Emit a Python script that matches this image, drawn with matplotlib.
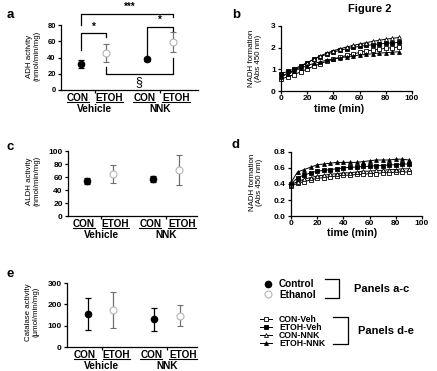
import matplotlib
matplotlib.use('Agg')
import matplotlib.pyplot as plt
from matplotlib import rcParams
from matplotlib.lines import Line2D

# Global settings
rcParams['font.family'] = 'Liberation Sans'
rcParams['font.weight'] = 'bold'
rcParams['axes.linewidth'] = 0.9
rcParams['xtick.major.width'] = 0.9
rcParams['ytick.major.width'] = 0.9
rcParams['xtick.major.size'] = 2.2
rcParams['ytick.major.size'] = 2.2
rcParams['xtick.direction'] = 'out'
rcParams['ytick.direction'] = 'out'
rcParams['xtick.major.pad'] = 1.0
rcParams['ytick.major.pad'] = 1.5

# ---- data ----
conditions = ['CON', 'ETOH', 'CON', 'ETOH']
groups = ['Vehicle', 'NNK']

adh_mean = [32, 46, 38, 59.5]
adh_sd = [5, 11, 2, 12.5]
aldh_mean = [54, 65, 57.5, 71]
aldh_sd = [5, 14, 4.5, 23]
cat_mean = [155, 173, 130, 147]
cat_sd = [76, 86, 53, 48]

series_names = ['CON-Veh', 'ETOH-Veh', 'CON-NNK', 'ETOH-NNK']
time_min = [0, 5, 10, 15, 20, 25, 30, 35, 40, 45, 50, 55, 60, 65, 70, 75, 80, 85, 90]

adh_kinetics = {
    'CON-Veh':  [0.55, 0.65, 0.76, 0.88, 1.02, 1.14, 1.26, 1.37, 1.47, 1.56, 1.64, 1.71, 1.78, 1.84, 1.89, 1.93, 1.97, 2.00, 2.03],
    'ETOH-Veh': [0.80, 0.90, 1.02, 1.16, 1.31, 1.46, 1.59, 1.70, 1.80, 1.88, 1.95, 2.01, 2.06, 2.10, 2.14, 2.17, 2.20, 2.22, 2.24],
    'CON-NNK':  [0.65, 0.80, 0.95, 1.12, 1.30, 1.47, 1.62, 1.75, 1.86, 1.95, 2.03, 2.10, 2.17, 2.23, 2.29, 2.34, 2.39, 2.43, 2.47],
    'ETOH-NNK': [0.70, 0.80, 0.92, 1.05, 1.17, 1.27, 1.35, 1.42, 1.48, 1.53, 1.58, 1.62, 1.66, 1.69, 1.72, 1.75, 1.77, 1.79, 1.81],
}
aldh_kinetics = {
    'CON-Veh':  [0.37, 0.41, 0.43, 0.45, 0.47, 0.48, 0.49, 0.50, 0.51, 0.51, 0.52, 0.52, 0.53, 0.53, 0.54, 0.54, 0.55, 0.55, 0.55],
    'ETOH-Veh': [0.40, 0.48, 0.51, 0.54, 0.56, 0.57, 0.58, 0.59, 0.60, 0.61, 0.61, 0.62, 0.62, 0.63, 0.63, 0.64, 0.64, 0.65, 0.65],
    'CON-NNK':  [0.39, 0.43, 0.46, 0.48, 0.50, 0.51, 0.52, 0.53, 0.54, 0.54, 0.55, 0.56, 0.56, 0.57, 0.57, 0.58, 0.58, 0.59, 0.59],
    'ETOH-NNK': [0.42, 0.55, 0.58, 0.61, 0.64, 0.65, 0.66, 0.67, 0.67, 0.67, 0.67, 0.68, 0.69, 0.70, 0.70, 0.70, 0.71, 0.71, 0.70],
}

# ---- styles ----
W, H = 437, 371
xpos = [0, 1, 2.6, 3.6]
label_x = [-0.12, 1.12, 2.48, 3.72]
group_x = [0.55, 3.1]
etoh_edge = '#b4b4b4'
etoh_bar = '#707070'
series_style = {
    'CON-Veh':  dict(marker='s', mfc='white'),
    'ETOH-Veh': dict(marker='s', mfc='black'),
    'CON-NNK':  dict(marker='^', mfc='white'),
    'ETOH-NNK': dict(marker='^', mfc='black'),
}

fig = plt.figure(figsize=(W / 100, H / 100), dpi=100)

# overlay in pixel coordinates for free text / legend
ov = fig.add_axes([0, 0, 1, 1])
ov.set_xlim(0, W)
ov.set_ylim(H, 0)
ov.axis('off')


def px_axes(left, top, right, bottom):
    return fig.add_axes([left / W, 1 - bottom / H, (right - left) / W, (bottom - top) / H])


cond_texts = []


def dot_panel(ax, means, sds, ylim, yticks, xlim):
    for i in range(4):
        if i % 2 == 0:
            ax.errorbar(xpos[i], means[i], yerr=sds[i], fmt='o', color='black', ms=4.5,
                        capsize=2.5, elinewidth=0.9, capthick=0.9, clip_on=False, zorder=3)
        else:
            ax.errorbar(xpos[i], means[i], yerr=sds[i], fmt='o', mfc='white', mec=etoh_edge,
                        ecolor=etoh_bar, ms=5, mew=0.8, capsize=2.5, elinewidth=0.9,
                        capthick=0.9, clip_on=False, zorder=3)
    ax.set_xlim(*xlim)
    ax.set_ylim(*ylim)
    ax.set_yticks(yticks)
    ax.set_xticks(group_x)
    ax.set_xticklabels([])
    ax.tick_params(labelsize=6)
    for s in ['top', 'right']:
        ax.spines[s].set_visible(False)
    for i, c in enumerate(conditions):
        t = ax.annotate(c, xy=(label_x[i], 0), xycoords=('data', 'axes fraction'),
                        xytext=(0, -2.2), textcoords='offset points',
                        ha='center', va='top', fontsize=7.2, weight='bold')
        cond_texts.append(t)
    for j, g in enumerate(groups):
        ax.annotate(g, xy=(group_x[j], 0), xycoords=('data', 'axes fraction'),
                    xytext=(0, -10.2), textcoords='offset points',
                    ha='center', va='top', fontsize=7.3, weight='bold')


def kinetic_panel(ax, data, ylim, yticks):
    for name in series_names:
        st = series_style[name]
        ax.plot(time_min, data[name], color='black', lw=0.7, marker=st['marker'],
                mfc=st['mfc'], mec='black', ms=2.8, mew=0.6, clip_on=False)
    ax.set_xlim(0, 100)
    ax.set_ylim(*ylim)
    ax.set_xticks([0, 20, 40, 60, 80, 100])
    ax.set_yticks(yticks)
    ax.tick_params(labelsize=6)
    for s in ['top', 'right']:
        ax.spines[s].set_visible(False)


# panel a
ax_a = px_axes(61, 25, 198, 90)
dot_panel(ax_a, adh_mean, adh_sd, (0, 80), [0, 20, 40, 60, 80], (-0.78, 4.59))
ax_a.tick_params(labelsize=5.5)
brk = dict(color='black', lw=0.9, clip_on=False)
ax_a.plot([0, 0, 1, 1], [49, 70, 70, 65], **brk)
ax_a.text(0.5, 72, '*', ha='center', va='bottom', fontsize=7)
ax_a.plot([2.6, 2.6, 3.6, 3.6], [43, 78, 78, 73], **brk)
ax_a.text(3.1, 80, '*', ha='center', va='bottom', fontsize=7)
ax_a.plot([0, 0, 3.6, 3.6], [80, 94, 94, 90], **brk)
ax_a.text(1.9, 96, '***', ha='center', va='bottom', fontsize=7)
ax_a.plot([1, 1, 3.6, 3.6], [28, 20, 20, 39], **brk)
ax_a.text(2.27, 10, '\u00a7', ha='center', va='center', fontsize=9, weight='normal')

# panel c
ax_c = px_axes(68, 151, 197, 216)
dot_panel(ax_c, aldh_mean, aldh_sd, (0, 100), [0, 20, 40, 60, 80, 100], (-0.745, 4.31))

# panel e
ax_e = px_axes(67, 283, 197, 347)
dot_panel(ax_e, cat_mean, cat_sd, (0, 300), [0, 100, 200, 300], (-0.82, 4.27))

# panel b
ax_b = px_axes(281, 26, 412, 91)
kinetic_panel(ax_b, adh_kinetics, (0, 3), [0, 1, 2, 3])

# panel d
ax_d = px_axes(291, 152, 422, 216)
kinetic_panel(ax_d, aldh_kinetics, (0, 0.8), [0.0, 0.2, 0.4, 0.6, 0.8])
ax_d.set_yticklabels(['0.0', '0.2', '0.4', '0.6', '0.8'])

# axis titles
ylab = dict(rotation=90, ha='center', va='center', fontsize=5.7, weight='normal',
            linespacing=1.1, multialignment='center')
ov.text(33.5, 56, 'ADH activity\n(nmol/min/mg)', **ylab)
ov.text(33, 181, 'ALDH activity\n(nmol/min/mg)', **ylab)
ov.text(32, 312, 'Catalase activity\n(\u00b5mol/min/mg)', **ylab)
ov.text(255, 58, 'NADH formation\n(Abs 450 nm)', **ylab)
ov.text(256, 182, 'NADH formation\n(Abs 450 nm)', **ylab)
ov.text(339, 109.5, 'time (min)', ha='center', va='center', fontsize=7.6)
ov.text(352, 233, 'time (min)', ha='center', va='center', fontsize=7.6)

# panel letters and title
for lt, (x, y) in zip(['a', 'b', 'c', 'd', 'e'],
                      [(10, 14.5), (236, 15), (10, 147.5), (236, 145), (10, 274)]):
    ov.text(x, y, lt, ha='center', va='center', fontsize=9.5)
ov.text(370, 8.5, 'Figure 2', ha='center', va='center', fontsize=8)

# legend: panels a-c
ov.plot([268], [284], 'o', color='black', ms=4.5)
ov.plot([268], [294], 'o', mfc='white', mec=etoh_edge, mew=0.8, ms=5)
ov.text(279, 284, 'Control', ha='left', va='center', fontsize=7.2)
ov.text(279, 294.5, 'Ethanol', ha='left', va='center', fontsize=7.2)
ov.plot([325, 339, 339, 325], [279, 279, 298, 298], color='black', lw=0.9)
ov.text(354, 289, 'Panels a-c', ha='left', va='center', fontsize=8)

# legend: panels d-e
for name, y in zip(series_names, [319, 327, 335, 343]):
    st = series_style[name]
    ov.plot([260, 266, 272], [y, y, y], color='black', lw=0.7, marker=st['marker'],
            mfc=st['mfc'], mec='black', ms=2.8, mew=0.6, markevery=[1])
    ov.text(279, y, name, ha='left', va='center', fontsize=6.2)
ov.plot([333, 348, 348, 333], [317, 317, 344, 344], color='black', lw=0.9)
ov.text(358, 331, 'Panels d-e', ha='left', va='center', fontsize=8)

# underline the condition labels
fig.canvas.draw()
renderer = fig.canvas.get_renderer()
fw, fh = fig.bbox.width, fig.bbox.height
for t in cond_texts:
    bb = t.get_window_extent(renderer)
    y = bb.y0 + 1.2
    fig.add_artist(Line2D([bb.x0 / fw, bb.x1 / fw], [y / fh, y / fh],
                          transform=fig.transFigure, color='black', lw=0.8))

fig.savefig('out.png', dpi=100)
